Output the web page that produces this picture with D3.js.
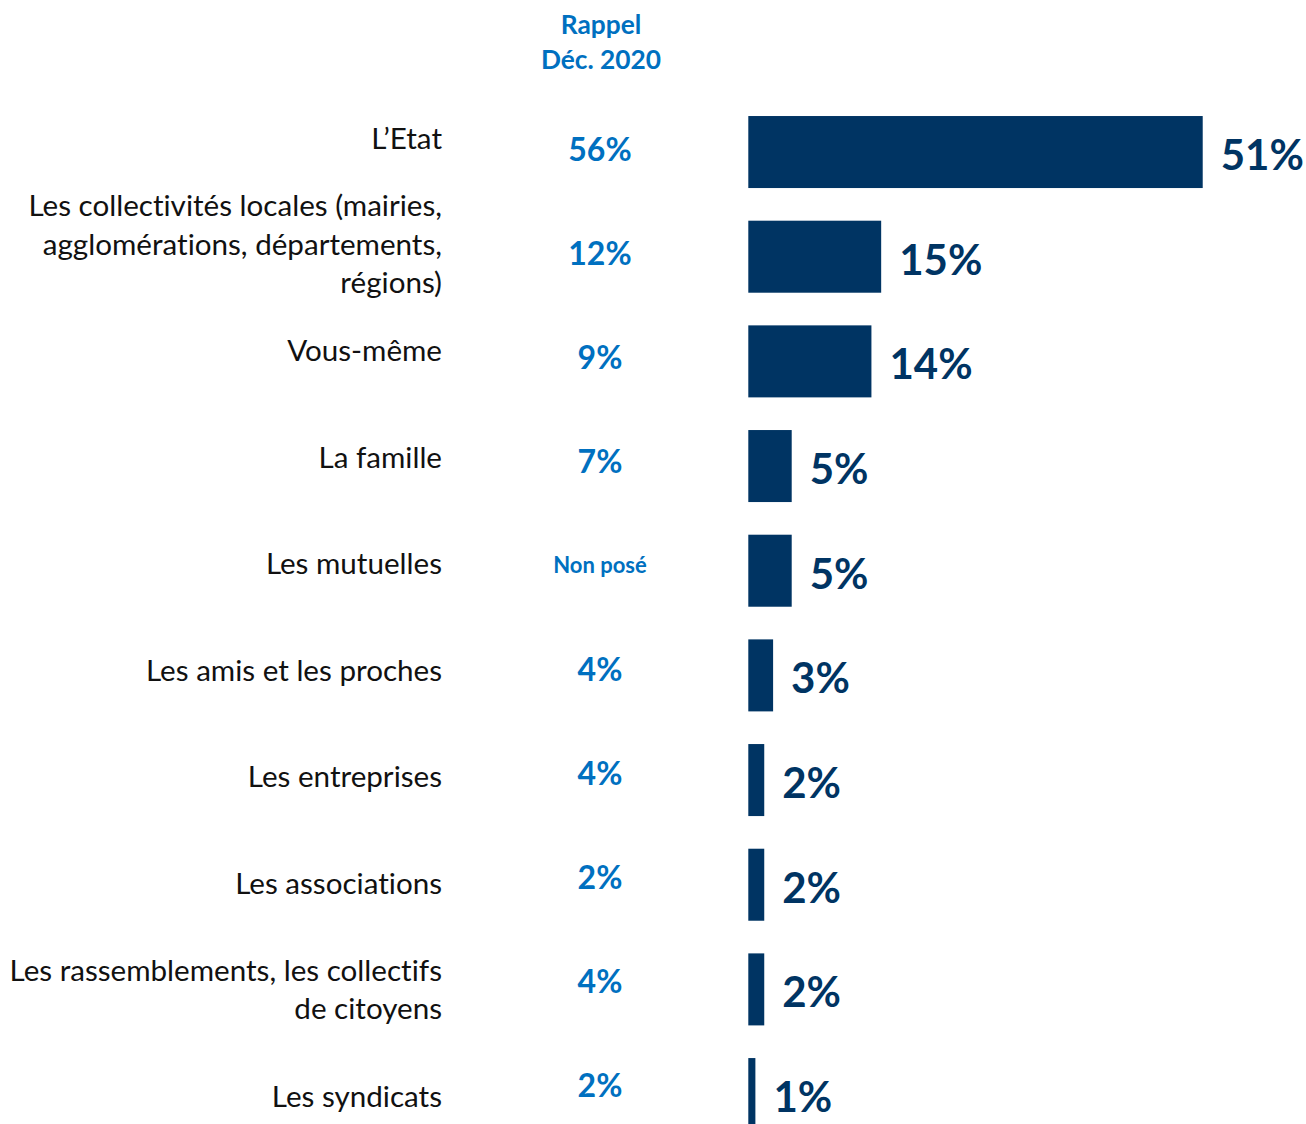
<!DOCTYPE html>
<html>
<head>
<meta charset="utf-8">
<script src="https://cdn.jsdelivr.net/npm/d3@7"></script>
<style>
  html, body { margin: 0; padding: 0; background: #ffffff; }
  svg { display: block; }
  text { font-variant-ligatures: none; font-feature-settings: "liga" 0, "clig" 0; }
</style>
</head>
<body>
<script>
// ---- Data ----
const categories = [
  ["L\u2019Etat"],
  ["Les collectivités locales (mairies,", "agglomérations, départements,", "régions)"],
  ["Vous-même"],
  ["La famille"],
  ["Les mutuelles"],
  ["Les amis et les proches"],
  ["Les entreprises"],
  ["Les associations"],
  ["Les rassemblements, les collectifs", "de citoyens"],
  ["Les syndicats"]
];
const values = [51.3, 15.0, 13.9, 4.9, 4.9, 2.8, 1.8, 1.8, 1.8, 0.8];
const rappel = ["56%", "12%", "9%", "7%", "Non posé", "4%", "4%", "2%", "4%", "2%"];
const rappelHeader = ["Rappel", "Déc. 2020"];

// ---- Layout ----
const W = 1306, H = 1124;
const navy = "#003463";
const blue = "#0070C0";
const font = "Lato, 'Open Sans', sans-serif";

const svg = d3.select("body").append("svg").attr("width", W).attr("height", H);

const ids = d3.range(categories.length);
const x = d3.scaleLinear().domain([0, 100]).range([748.3, 748.3 + 885.8]);
const y = d3.scaleBand().domain(ids).range([99.7, 1146.4]).paddingInner(0.312).paddingOuter(0.156);
const yLabel = d3.scalePoint().domain(ids).range([137, 1095]);
const yRappel = d3.scalePoint().domain(ids).range([148, 1084]);

// header
svg.append("g").selectAll("text").data(rappelHeader).join("text")
  .attr("x", 601)
  .attr("y", (d, i) => 24 + i * 35)
  .attr("text-anchor", "middle")
  .attr("dominant-baseline", "central")
  .attr("font-family", font)
  .attr("font-weight", 700)
  .attr("font-size", 26.3)
  .attr("fill", blue)
  .text(d => d);

// bars
svg.append("g").selectAll("rect").data(values).join("rect")
  .attr("x", x(0))
  .attr("y", (d, i) => y(i))
  .attr("width", d => x(d) - x(0))
  .attr("height", y.bandwidth())
  .attr("fill", navy);

// value labels
svg.append("g").selectAll("text").data(values).join("text")
  .attr("x", d => x(d) + 18)
  .attr("y", (d, i) => y(i) + y.bandwidth() / 2 + 2)
  .attr("dominant-baseline", "central")
  .attr("font-family", font)
  .attr("font-weight", 700)
  .attr("font-size", 42)
  .attr("fill", navy)
  .text(d => Math.round(d) + "%");

// rappel column
svg.append("g").selectAll("text").data(rappel).join("text")
  .attr("x", 600)
  .attr("y", (d, i) => yRappel(i))
  .attr("text-anchor", "middle")
  .attr("dominant-baseline", "central")
  .attr("font-family", font)
  .attr("font-weight", 700)
  .attr("font-size", d => d.indexOf("%") >= 0 ? 32 : 22)
  .attr("fill", blue)
  .text(d => d);

// category labels
const lineH = 38.5;
const lab = svg.append("g").selectAll("text").data(categories).join("text")
  .attr("text-anchor", "end")
  .attr("font-family", font)
  .attr("font-size", 29.6)
  .attr("fill", "#111111");
lab.each(function(lines, i) {
  const t = d3.select(this);
  const c = yLabel(i);
  lines.forEach((ln, j) => {
    t.append("tspan")
      .attr("x", 442)
      .attr("y", c + (j - (lines.length - 1) / 2) * lineH)
      .attr("dominant-baseline", "central")
      .text(ln);
  });
});
</script>
</body>
</html>
